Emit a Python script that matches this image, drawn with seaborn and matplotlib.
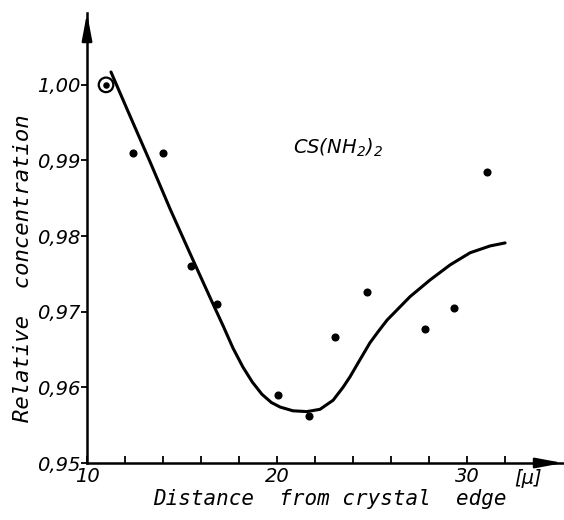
import matplotlib
matplotlib.use("Agg")
import matplotlib.pyplot as plt
import seaborn as sns
import pandas as pd

# measured points (distance in micron, relative concentration)
point_x = [12.42, 14.0, 15.47, 16.85, 20.05, 21.7, 23.05, 24.74, 27.79, 29.32, 31.05]
point_y = [0.991, 0.991, 0.976, 0.971, 0.959, 0.9562, 0.9667, 0.9726, 0.9677, 0.9705, 0.9885]

# reference point (circled)
ref_x = [11.0]
ref_y = [1.000]

# hand-drawn smooth curve
curve_x = [11.26, 12.26, 13.32, 14.37, 15.53, 16.58, 17.15, 17.68, 18.2, 18.7, 19.2, 19.7,
           20.16, 20.84, 21.58, 22.26, 22.95, 23.47, 23.84, 24.21, 24.89, 25.3, 25.79, 27.0,
           28.05, 29.11, 30.16, 31.21, 32.0]
curve_y = [1.0017, 0.9959, 0.9898, 0.9836, 0.9771, 0.9713, 0.9682, 0.9652, 0.9627, 0.9607,
           0.9591, 0.9580, 0.9574, 0.9569, 0.9568, 0.9571, 0.9583, 0.9600, 0.9614, 0.9630,
           0.9659, 0.9673, 0.9689, 0.9720, 0.9742, 0.9762, 0.9778, 0.9787, 0.9791]

x_ticks = [10, 12, 14, 16, 18, 20, 22, 24, 26, 28, 30, 32]
x_labels = ["10", "", "", "", "", "20", "", "", "", "", "30", ""]
y_ticks = [0.95, 0.96, 0.97, 0.98, 0.99, 1.00]
y_labels = ["0,95", "0,96", "0,97", "0,98", "0,99", "1,00"]

sns.set_style("ticks")
plt.rcParams["font.family"] = ["DejaVu Sans"]
plt.rcParams["font.style"] = "italic"
plt.rcParams["mathtext.fontset"] = "dejavusans"
for key in ["text.color", "axes.labelcolor", "xtick.color", "ytick.color", "axes.edgecolor"]:
    plt.rcParams[key] = "black"

fig = plt.figure(figsize=(5.64, 5.20), dpi=100)
ax = fig.add_axes([0.1543, 0.1096, 0.844, 0.8654])

curve = pd.DataFrame({"x": curve_x, "y": curve_y})
sns.lineplot(data=curve, x="x", y="y", sort=False, estimator=None,
             color="black", linewidth=2.2, ax=ax)

pts = pd.DataFrame({"x": point_x, "y": point_y})
sns.scatterplot(data=pts, x="x", y="y", color="black", s=34, linewidth=0, ax=ax)

ref = pd.DataFrame({"x": ref_x, "y": ref_y})
sns.scatterplot(data=ref, x="x", y="y", color="black", s=22, linewidth=0, ax=ax)
sns.scatterplot(data=ref, x="x", y="y", facecolor="none", edgecolor="black",
                s=110, linewidth=1.6, ax=ax)

ax.set_xlim(10, 35.05)
ax.set_ylim(0.95, 1.0095)

ax.set_xticks(x_ticks)
ax.set_xticklabels(x_labels, fontsize=14)
ax.set_yticks(y_ticks)
ax.set_yticklabels(y_labels, fontsize=14)
ax.tick_params(axis="x", direction="in", length=5, width=1.3, pad=3)
ax.tick_params(axis="y", direction="out", length=4, width=1.3, pad=1)

sns.despine(ax=ax)
for side in ["left", "bottom"]:
    ax.spines[side].set_linewidth(1.8)

ax.set_xlabel("Distance  from crystal  edge", fontsize=15, family="DejaVu Sans Mono")
ax.set_ylabel("Relative  concentration", fontsize=16, family="DejaVu Sans Mono")
ax.xaxis.set_label_coords(0.51, -0.058)
ax.yaxis.set_label_coords(-0.113, 0.433)

ax.text(33.2, 0.9492, "[μ]", fontsize=14, ha="center", va="top")
ax.text(20.84, 0.9917, "CS(NH$_2$)$_2$", fontsize=14, ha="left", va="center")

# arrow heads on the axes
arrow = dict(arrowstyle="-|>,head_length=1.6,head_width=0.3", color="black",
             lw=1.8, mutation_scale=10, shrinkA=0, shrinkB=0)
ax.annotate("", xy=(1.0, 0.0), xytext=(0.95, 0.0), xycoords="axes fraction",
            arrowprops=arrow, annotation_clip=False)
ax.annotate("", xy=(0.0, 1.0), xytext=(0.0, 0.95), xycoords="axes fraction",
            arrowprops=arrow, annotation_clip=False)

plt.savefig("out.png", dpi=100)
